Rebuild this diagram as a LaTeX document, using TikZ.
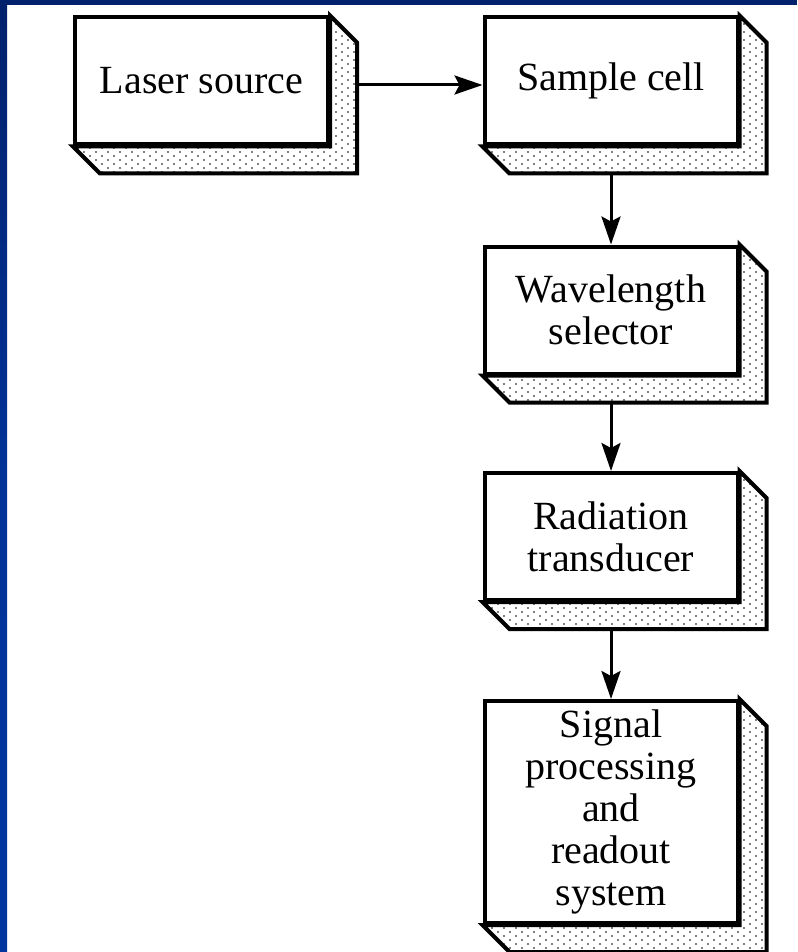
\documentclass[tikz,border=0pt]{standalone}
\usepackage{fontspec}
\setmainfont{Liberation Serif}
\usetikzlibrary{arrows.meta,patterns,calc}

% sparse staggered dots for the box shadows
\pgfdeclarepatternformonly{shadedots}{\pgfqpoint{-1pt}{-1pt}}{\pgfqpoint{7pt}{5pt}}{\pgfqpoint{12pt}{8pt}}{%
  \pgfpathcircle{\pgfqpoint{0pt}{0pt}}{0.8pt}%
  \pgfpathcircle{\pgfqpoint{6pt}{4pt}}{0.8pt}%
  \pgfusepath{fill}}

\definecolor{framenavy}{HTML}{00216C}
\definecolor{frameblue}{HTML}{0035A0}

% dotted 3D shadow behind a named box
\newcommand\boxshadow[1]{%
  \draw[shadowline] (#1.north east) -- ++(27,27)
    -- ($(#1.south east)+(27,27)$) -- ($(#1.south west)+(27,27)$)
    -- (#1.south west) -- (#1.south east) -- cycle;}

\begin{document}
\begin{tikzpicture}[x=1pt,y=-1pt,
  box/.style={draw, line width=4pt, fill=white, minimum width=253pt,
    minimum height=127pt, inner sep=0pt, align=center,
    font=\fontsize{40}{42}\selectfont},
  shadowline/.style={line width=4pt, pattern=shadedots, line join=miter},
  flow/.style={line width=3pt, -{Stealth[length=28pt,width=19pt,inset=5pt]}}]

\useasboundingbox (0,0) rectangle (797,952);
\fill[white] (0,0) rectangle (797,952);
\shade[top color=framenavy, bottom color=frameblue, middle color=frameblue!85!framenavy] (0,0) rectangle (7,952);
\fill[framenavy] (0,0) rectangle (797,5);

\node[box] (laser)  at (201.5,81) {Laser source};
\node[box] (sample) at (611,81)   {Sample cell};
\node[box] (select) at (611,310)  {Wavelength\\selector};
\node[box] (trans)  at (611,536.5){Radiation\\transducer};
\node[box, minimum height=222pt] (signal) at (611,812)
  {Signal\\processing\\and\\readout\\system};

\boxshadow{laser}
\boxshadow{sample}
\boxshadow{select}
\boxshadow{trans}
\boxshadow{signal}

\draw[flow] ($(laser.east)+(27,4)$) -- ($(sample.west)+(0,4)$);
\draw[flow] ($(sample.south)+(0,27)$) -- (select.north);
\draw[flow] ($(select.south)+(0,27)$) -- (trans.north);
\draw[flow] ($(trans.south)+(0,27)$) -- (signal.north);
\end{tikzpicture}
\end{document}
